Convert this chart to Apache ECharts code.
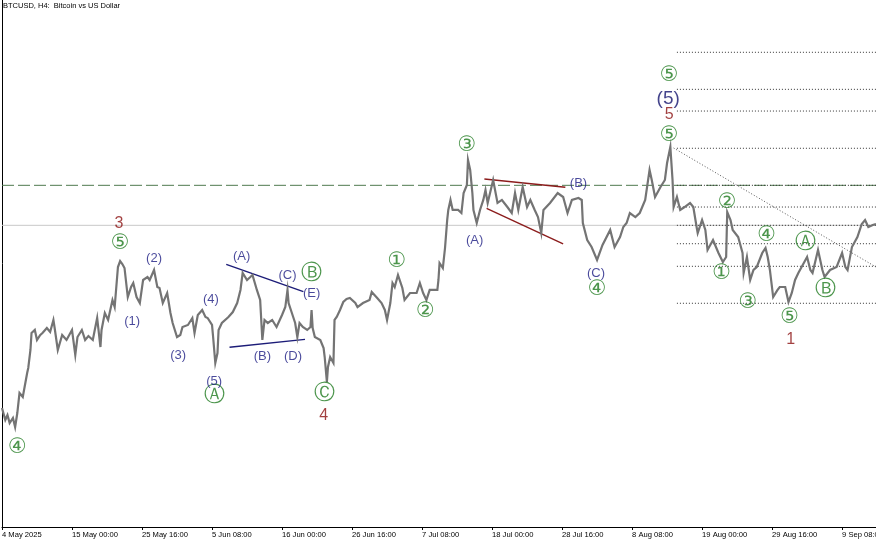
<!DOCTYPE html>
<html>
<head>
<meta charset="utf-8">
<script src="https://cdn.jsdelivr.net/npm/echarts@6/dist/echarts.min.js"></script>
<style>
html,body{margin:0;padding:0;background:#fff;overflow:hidden;width:100%;height:100%;}
#chart{width:100vw;height:100vh;}
</style>
</head>
<body>
<div id="chart"></div>
<script>
// ---- data (H4 bar index from 4 May 2025 08:00, price in USD) ----
const tickLabels = ['4 May 2025','15 May 00:00','25 May 16:00','5 Jun 08:00','16 Jun 00:00','26 Jun 16:00','7 Jul 08:00','18 Jul 00:00','28 Jul 16:00','8 Aug 08:00','19 Aug 00:00','29 Aug 16:00','9 Sep 08:00'];

const barIndex = [0,3,5,7,10,12,14,16,19,23,24,26,27,30,32,35,37,41,44,47,48,51,55,59,64,67,69,73,76,79,83,87,90,91,94,97,101,103,106,108,110,112,115,118,120,123,126,129,133,135,139,142,144,147,151,154,156,160,163,165,170,174,176,179,183,186,188,192,193,195,197,198,201,207,211,215,218,220,224,227,229,233,236,238,240,243,247,251,256,259,261,262,265,268,270,272,275,279,282,283,284,286,291,294,295,297,298,300,303,304,306,309,312,315,318,323,325,330,336,338,343,347,350,352,355,357,359,362,366,368,373,379,382,385,388,391,398,399,400,403,405,407,408,410,412,417,420,422,425,426,428,430,431,434,437,440,442,444,449,453,457,462,466,469,472,476,480,483,487,490,493,495,501,508,513,517,521,527,530,531,535,539,544,549,556,560,565,568,571,574,579,583,588,592,594,597,602,606,608,611,613,614,617,620,624,629,632,635,636,640,643,645,650,655,659,662,663,666,668,673,677,678,681,684,687,690,695,698,700,702,705,709,711,716,719,722,725,728,731,736,739,741,746,750,752,757,763,768,771,773,777,782,786,789,792,796,799];

const closePrice = [95380,94040,94600,93700,94260,93250,94820,97060,96610,99300,99860,101880,103780,104120,103000,103560,103780,104340,103890,105240,104450,101880,103560,103000,104120,101320,103330,104120,103000,103440,103000,105460,102210,104120,106020,105240,107480,106690,111170,111840,111510,111060,107810,108930,109380,107810,107140,109720,110050,109720,110840,108930,108820,107140,108260,106020,104900,103330,103560,104450,104680,105460,103780,105800,106360,105570,105460,104680,103330,100420,101540,104120,104900,105570,106130,107140,108600,110500,109720,110050,110280,108600,107480,103000,105240,104900,105240,104450,105800,106690,108600,107140,106020,104900,103330,104900,104450,104120,104450,106360,104340,103330,103000,102100,101090,98290,99970,101090,100420,105240,105570,106360,107250,107590,107700,107140,106690,107140,107480,108370,107700,107140,106360,105240,107140,109380,108930,110280,108820,107480,108260,108260,109380,108260,107480,108600,108600,109720,111620,111060,113300,116440,117560,118680,117560,117560,117220,119460,120360,123160,122040,119460,117560,116100,117560,118680,119800,118340,120920,118340,118680,117890,117220,119460,117560,120130,117890,118680,117560,116770,114980,117560,118340,119460,119010,117220,118680,118900,118680,116100,114200,113410,111960,113640,115320,113410,114530,115650,116100,117220,116770,117220,118680,122040,120920,119010,120130,120920,122820,124610,120920,117890,119010,117560,117890,118340,117890,115650,114980,116440,115320,113080,114200,112740,111730,112290,117330,116440,115320,114530,112740,110500,112290,109720,110840,111170,112740,113300,112290,110840,107810,108600,108930,108930,107250,108260,109720,110500,111170,112290,110840,110500,113080,110840,110050,110840,111170,112740,111170,110840,113410,114530,115990,116440,115650,115880,115990];

// wave labels
const greenBars   = [14,108,194,283,295,361,387,425,544,610,610,663,658,699,682,735,753,720];
const greenPrices = [90900,113750,96720,110390,96950,111730,106130,124720,108600,132560,125840,118340,110390,114640,107140,113860,108600,105460];
const greenTexts  = ['④','⑤','Ⓐ','Ⓑ','Ⓒ','①','②','③','④','⑤','⑤','②','①','④','③','Ⓐ','Ⓑ','⑤'];

const navyBars   = [139,119,161,191,194,219,261,283,238,266,432,527,543];
const navyPrices = [112180,105120,101320,107590,98400,112400,110280,108260,101200,101200,114200,120580,110500];
const navyTexts  = ['(2)','(1)','(3)','(4)','(5)','(A)','(C)','(E)','(B)','(D)','(A)','(B)','(C)'];

const redBars   = [107,294,610,721];
const redPrices = [115990,94480,128200,103000];
const redTexts  = ['3','4','5','1'];

const bigBars   = [609];
const bigPrices = [129990];
const bigTexts  = ['(5)'];

// trend lines [bar, price] pairs
const navyUpper = [[205,111470],[275.5,108410]];
const navyLower = [[208,102180],[277,103070]];
const redUpper  = [[441,121030],[515,120100]];
const redLower  = [[443,117750],[513,113750]];
const slopeLine = [[614,124500],[799,111170]];

// horizontal levels
const bidLevel = 115840;
const dashedLevel = 120320;
const fiboStart = 617;
const fiboLevels = [135220,131070,128640,124470,120320,117890,115840,113780,111250,107110];

const X_MAX = 799;
const Y_MIN = 82052, Y_MAX = 141076;

const zip3 = (a,b,c) => a.map((v,i)=>[v,b[i],c[i]]);

function labelSeries(bars, prices, texts, color, size, family){
  return {
    type:'scatter', symbol:'circle', symbolSize:1, silent:true,
    itemStyle:{color:'rgba(0,0,0,0)'},
    data: zip3(bars, prices, texts),
    label:{show:true, position:'inside', formatter:p=>p.data[2], color:color, fontSize:size, fontFamily:family},
    z:5
  };
}
function seg(points, color, width, type){
  return {type:'line', data:points, symbol:'none', silent:true, lineStyle:{color:color,width:width,type:type||'solid'}, z:3};
}

const chart = echarts.init(document.getElementById('chart'), null, {renderer:'canvas'});
const series = [
  seg([[0,bidLevel],[X_MAX,bidLevel]], '#c8c8c8', 1),
  seg([[0,dashedLevel],[X_MAX,dashedLevel]], '#4f7a4f', 1, [12,4]),
];
fiboLevels.forEach(p => series.push(seg([[fiboStart,p],[X_MAX,p]], '#333333', 1, [1,2])));
series.push(seg(slopeLine, '#555555', 1, [1,2]));
series.push({
  type:'line', data: barIndex.map((b,i)=>[b, closePrice[i]]), symbol:'none', silent:true,
  lineStyle:{color:'#747474', width:2.2, join:'miter'}, z:4
});
series.push(seg(navyUpper, '#1c1c78', 1.4));
series.push(seg(navyLower, '#1c1c78', 1.4));
series.push(seg(redUpper, '#8b1c1c', 1.4));
series.push(seg(redLower, '#8b1c1c', 1.4));
series.push(labelSeries(greenBars, greenPrices, greenTexts, '#1f7a1f', 21, 'DejaVu Sans'));
series.push(labelSeries(navyBars, navyPrices, navyTexts, '#1c1c82', 13, 'Liberation Sans'));
series.push(labelSeries(redBars, redPrices, redTexts, '#8b1010', 16, 'Liberation Sans'));
series.push(labelSeries(bigBars, bigPrices, bigTexts, '#14146e', 19, 'Liberation Sans'));

chart.setOption({
  animation:false,
  backgroundColor:'#ffffff',
  title:{text:'BTCUSD, H4:  Bitcoin vs US Dollar', left:3, top:2, padding:0,
    textStyle:{fontSize:7.5, fontWeight:'normal', color:'#000', fontFamily:'Liberation Sans'}},
  grid:{left:2, right:0, top:0, bottom:18, containLabel:false, outerBoundsMode:'none'},
  xAxis:{type:'value', min:0, max:X_MAX, interval:64,
    axisLine:{show:true, lineStyle:{color:'#000', width:1}},
    axisTick:{show:true, length:3, lineStyle:{color:'#000'}},
    splitLine:{show:false},
    axisLabel:{show:true, align:'left', margin:4, fontSize:7.6, color:'#000', fontFamily:'Liberation Sans',
      showMaxLabel:false, hideOverlap:false,
      formatter:v => { const k = Math.round(v/64); return (v % 64 === 0 && tickLabels[k]) ? tickLabels[k] : ''; }}
  },
  yAxis:{type:'value', min:Y_MIN, max:Y_MAX,
    axisLine:{show:true, onZero:false, lineStyle:{color:'#000', width:1}},
    axisTick:{show:false}, axisLabel:{show:false}, splitLine:{show:false}},
  series: series
});
</script>
</body>
</html>
